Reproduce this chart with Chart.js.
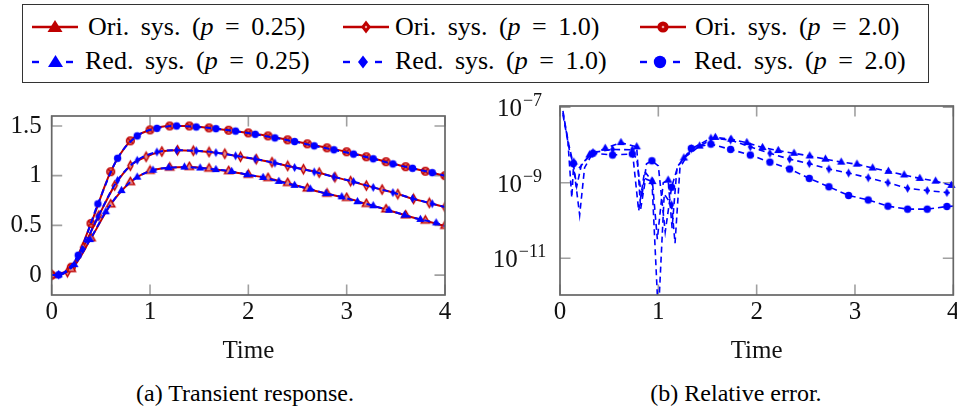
<!DOCTYPE html>
<html>
<head>
<meta charset="utf-8">
<script src="https://cdn.jsdelivr.net/npm/chart.js@4.4.1/dist/chart.umd.min.js"></script>
<style>
  html, body { margin: 0; padding: 0; background: #fff; overflow: hidden; }
  body { width: 957px; height: 413px; position: relative; font-family: "Liberation Serif", serif; color: #000; }
  #legendBox { position: absolute; left: 22px; top: 4px; width: 905px; height: 77px; border: 1.3px solid #333; }
  .lg { position: absolute; height: 30px; line-height: 30px; font-size: 26px; word-spacing: 5px; white-space: nowrap; }
  .smp { position: absolute; width: 46px; height: 22px; }
  canvas { position: absolute; }
  .cap { position: absolute; top: 380px; width: 400px; font-size: 24px; text-align: center; white-space: nowrap; }
</style>
</head>
<body>
<div id="legendBox"></div>

<!-- row 1: original system -->
<svg class="smp" style="left:32px;top:15.7px" viewBox="0 0 46 22">
  <line x1="0" y1="11" x2="46" y2="11" stroke="#bf0000" stroke-width="2.4"/>
  <polygon points="23,4 30.5,16 15.5,16" fill="#bf0000"/>
</svg>
<div class="lg" style="left:88px;top:12.3px">Ori. sys. (<i>p</i> = 0.25)</div>
<svg class="smp" style="left:343px;top:15.7px" viewBox="0 0 46 22">
  <line x1="0" y1="11" x2="46" y2="11" stroke="#bf0000" stroke-width="2.4"/>
  <polygon points="23,4.5 28,11 23,17.5 18,11" fill="#bf0000"/>
  <circle cx="23" cy="11" r="1.2" fill="#f0a0a0"/>
</svg>
<div class="lg" style="left:395px;top:12.3px">Ori. sys. (<i>p</i> = 1.0)</div>
<svg class="smp" style="left:640px;top:15.7px" viewBox="0 0 46 22">
  <line x1="0" y1="11" x2="46" y2="11" stroke="#bf0000" stroke-width="2.4"/>
  <circle cx="23" cy="11" r="5.6" fill="#bf0000"/>
  <circle cx="23" cy="11" r="1.3" fill="#f0a0a0"/>
</svg>
<div class="lg" style="left:695px;top:12.3px">Ori. sys. (<i>p</i> = 2.0)</div>

<!-- row 2: reduced system -->
<svg class="smp" style="left:32px;top:50.7px" viewBox="0 0 46 22">
  <line x1="0" y1="11" x2="7" y2="11" stroke="#0000ff" stroke-width="2.4"/>
  <line x1="34" y1="11" x2="41" y2="11" stroke="#0000ff" stroke-width="2.4"/>
  <polygon points="23.5,4 31,16 16,16" fill="#0000ff"/>
</svg>
<div class="lg" style="left:85px;top:45.8px">Red. sys. (<i>p</i> = 0.25)</div>
<svg class="smp" style="left:343px;top:50.7px" viewBox="0 0 46 22">
  <line x1="0" y1="11" x2="7" y2="11" stroke="#0000ff" stroke-width="2.4"/>
  <line x1="32" y1="11" x2="39" y2="11" stroke="#0000ff" stroke-width="2.4"/>
  <polygon points="20,4.5 25,11 20,17.5 15,11" fill="#0000ff"/>
</svg>
<div class="lg" style="left:395px;top:45.8px">Red. sys. (<i>p</i> = 1.0)</div>
<svg class="smp" style="left:640px;top:50.7px" viewBox="0 0 46 22">
  <line x1="0" y1="11" x2="7" y2="11" stroke="#0000ff" stroke-width="2.4"/>
  <line x1="33" y1="11" x2="40" y2="11" stroke="#0000ff" stroke-width="2.4"/>
  <circle cx="20" cy="11" r="6.2" fill="#0000ff"/>
</svg>
<div class="lg" style="left:694px;top:45.8px">Red. sys. (<i>p</i> = 2.0)</div>

<canvas id="resp" width="478" height="285" style="left:0;top:91px"></canvas>
<canvas id="err" width="490" height="285" style="left:478px;top:91px"></canvas>

<div class="cap" style="left:45px">(a) Transient response.</div>
<div class="cap" style="left:536px">(b) Relative error.</div>

<script>
// ---- (a) transient response ----
const tOri20 = [0, 0.2, 0.4, 0.6, 0.8, 1.0, 1.2, 1.4, 1.6, 1.8, 2.0, 2.2, 2.4, 2.6, 2.8, 3.0, 3.2, 3.4, 3.6, 3.8, 4.0];
const tOri16 = [0, 0.16, 0.32, 0.48, 0.64, 0.80, 0.96, 1.12, 1.28, 1.44, 1.60, 1.76, 1.92, 2.08, 2.24, 2.40,
                2.56, 2.72, 2.88, 3.04, 3.20, 3.36, 3.52, 3.68, 3.84, 4.00];
const tRed = [0, 0.07, 0.27, 0.47, 0.67, 0.87, 1.07, 1.27, 1.47, 1.67, 1.87, 2.07, 2.27, 2.47, 2.67, 2.87,
              3.07, 3.27, 3.47, 3.67, 3.87, 4.0];
const tRed025 = [0, 0.07, 0.23, 0.39, 0.55, 0.71, 0.87, 1.03, 1.19, 1.35, 1.51, 1.67, 1.83, 1.99, 2.15, 2.31,
                 2.47, 2.63, 2.79, 2.95, 3.11, 3.27, 3.43, 3.59, 3.75, 3.91, 4.0];

const ori025 = [0, 0.06, 0.37, 0.71, 0.934, 1.048, 1.08, 1.086, 1.07, 1.045, 1.008, 0.975, 0.925, 0.87, 0.818,
                0.775, 0.715, 0.66, 0.60, 0.547, 0.494];
const ori10 = [0, 0.03, 0.28, 0.60, 0.90, 1.10, 1.19, 1.243, 1.255, 1.25, 1.238, 1.22, 1.19, 1.166, 1.135,
               1.098, 1.065, 1.03, 0.985, 0.945, 0.90, 0.86, 0.815, 0.766, 0.726, 0.684];
const ori20 = [0, 0.08, 0.52, 1.04, 1.35, 1.46, 1.50, 1.50, 1.48, 1.457, 1.43, 1.40, 1.36, 1.32, 1.28, 1.24,
               1.19, 1.14, 1.09, 1.045, 1.0];
const red025 = [0, 0.002, 0.105, 0.357, 0.637, 0.85, 0.985, 1.055, 1.08, 1.086, 1.077, 1.061, 1.042, 1.01,
                0.982, 0.942, 0.903, 0.865, 0.82, 0.787, 0.738, 0.697, 0.652, 0.603, 0.56, 0.525, 0.494];
const red10 = [0, 0.002, 0.19, 0.585, 0.953, 1.155, 1.238, 1.255, 1.25, 1.232, 1.20, 1.168, 1.127, 1.082,
               1.038, 0.988, 0.94, 0.882, 0.83, 0.77, 0.718, 0.684];
const red20 = [0, 0.003, 0.2, 0.716, 1.175, 1.40, 1.476, 1.50, 1.49, 1.473, 1.448, 1.416, 1.38, 1.343, 1.30,
               1.26, 1.217, 1.17, 1.118, 1.074, 1.03, 1.0];

const timeTicks = [0, 1, 2, 3, 4];
const timeLabels = ['0', '1', '2', '3', '4'];
const respTicks = [0, 0.5, 1, 1.5];
const respLabels = ['0', '0.5', '1', '1.5'];

// ---- (b) relative error ----
const tErr025 = [0.03, 0.08, 0.12, 0.14, 0.20, 0.30, 0.46, 0.62, 0.78, 0.82, 0.87, 0.94, 0.99, 1.05, 1.10, 1.14,
                 1.19, 1.26, 1.42, 1.58, 1.74, 1.90, 2.06, 2.22, 2.38, 2.54, 2.70, 2.86, 3.02, 3.18, 3.34,
                 3.50, 3.66, 3.82, 3.98, 4.0];
const err025 = [7.9e-8, 1.26e-8, 4.0e-10, 3.5e-9, 2.5e-9, 5.4e-9, 8.1e-9, 1.15e-8, 8.9e-9, 2.0e-10, 1.26e-9,
                1.07e-9, 3.2e-11, 1.0e-9, 1.17e-9, 6.3e-11, 2.5e-9, 4.5e-9, 9.3e-9, 1.58e-8, 1.41e-8, 1.15e-8,
                8.5e-9, 7.1e-9, 6.0e-9, 5.1e-9, 4.2e-9, 3.5e-9, 3.1e-9, 2.45e-9, 2.0e-9, 1.6e-9, 1.3e-9,
                1.1e-9, 8.5e-10, 8.4e-10];
const mark025 = [0.14, 0.30, 0.46, 0.62, 0.78, 0.94, 1.10, 1.26, 1.42, 1.58, 1.74, 1.90, 2.06, 2.22, 2.38,
                 2.54, 2.70, 2.86, 3.02, 3.18, 3.34, 3.50, 3.66, 3.82, 3.98];

const tErr10 = [0.03, 0.09, 0.135, 0.20, 0.25, 0.335, 0.535, 0.735, 0.80, 0.86, 0.935, 1.0, 1.06, 1.135, 1.17,
                1.22, 1.335, 1.535, 1.735, 1.935, 2.135, 2.335, 2.535, 2.735, 2.935, 3.135, 3.335, 3.535,
                3.735, 3.935, 4.0];
const err10 = [7.1e-8, 1.0e-8, 3.16e-9, 1.4e-10, 2.5e-9, 6.3e-9, 7.6e-9, 7.4e-9, 1.8e-10, 2.0e-9, 1.12e-9,
               3e-13, 5.0e-10, 2.6e-10, 2.5e-11, 2.5e-9, 7.9e-9, 1.51e-8, 1.35e-8, 8.9e-9, 6.0e-9, 4.2e-9,
               3.2e-9, 2.3e-9, 1.8e-9, 1.35e-9, 1.0e-9, 7.1e-10, 6.2e-10, 5.5e-10, 5.2e-10];

const tErr20 = [0.03, 0.10, 0.135, 0.17, 0.22, 0.335, 0.535, 0.735, 0.78, 0.83, 0.88, 0.935, 1.0, 1.07, 1.135,
                1.2, 1.335, 1.535, 1.735, 1.935, 2.135, 2.335, 2.535, 2.735, 2.935, 3.135, 3.335, 3.535,
                3.735, 3.935, 4.0];
const err20 = [6.3e-8, 6.3e-9, 3.2e-9, 8e-10, 3.16e-9, 6.0e-9, 5.4e-9, 5.75e-9, 4.5e-9, 4.0e-10, 3.16e-9,
               3.8e-9, 2.8e-9, 5e-11, 7.6e-10, 2.8e-9, 8.1e-9, 1.05e-8, 7.6e-9, 5.4e-9, 3.5e-9, 2.3e-9,
               1.3e-9, 7.8e-10, 4.6e-10, 3.5e-10, 2.4e-10, 2.0e-10, 2.0e-10, 2.35e-10, 2.4e-10];
const mark20 = [0.135, 0.335, 0.535, 0.735, 0.935, 1.135, 1.335, 1.535, 1.735, 1.935, 2.135, 2.335, 2.535,
                2.735, 2.935, 3.135, 3.335, 3.535, 3.735, 3.935];

const errTicks = [1e-11, 1e-9, 1e-7];
const errExp = ['\u221211', '\u22129', '\u22127'];

const RED = '#bf0000', BLUE = '#0000ff';
const FONT = "'Liberation Serif', serif";

// small canvases used as point styles (pgfplots-like marks)
function mark(shape, fill, stroke, size) {
  const c = document.createElement('canvas');
  const w = Math.ceil(size * 2 + 3);
  c.width = w; c.height = w;
  const g = c.getContext('2d');
  const cx = w / 2, cy = w / 2;
  g.beginPath();
  if (shape === 'tri') {
    g.moveTo(cx, cy - size);
    g.lineTo(cx + size * 0.866, cy + size / 2);
    g.lineTo(cx - size * 0.866, cy + size / 2);
    g.closePath();
  } else if (shape === 'dia') {
    g.moveTo(cx, cy - size);
    g.lineTo(cx + size * 0.55, cy);
    g.lineTo(cx, cy + size);
    g.lineTo(cx - size * 0.55, cy);
    g.closePath();
  } else {
    g.arc(cx, cy, size, 0, Math.PI * 2);
  }
  g.fillStyle = fill;
  g.fill();
  if (stroke) {
    g.strokeStyle = stroke;
    g.lineWidth = 1.4;
    g.stroke();
    if (shape === 'circ') {
      const d = size * 0.6;
      g.beginPath();
      g.moveTo(cx - d, cy - d); g.lineTo(cx + d, cy + d);
      g.moveTo(cx + d, cy - d); g.lineTo(cx - d, cy + d);
      g.stroke();
    }
  }
  return c;
}

const mkOriTri = mark('tri', '#e68a8a', RED, 4.8);
const mkOriDia = mark('dia', '#e68a8a', RED, 4.6);
const mkOriCirc = mark('circ', '#e07070', RED, 3.9);
const mkRedTri = mark('tri', BLUE, null, 4.8);
const mkRedDia = mark('dia', BLUE, null, 4.6);
const mkRedCirc = mark('circ', BLUE, null, 3.7);

const pts = (ts, ys) => ts.map((t, i) => ({ x: t, y: ys[i] }));
const radiusAt = (ts, marks) => (c) => (marks.includes(ts[c.dataIndex]) ? 4 : 0);

function oriSet(ts, ys, style) {
  return {
    data: pts(ts, ys), borderColor: RED, borderWidth: 2, pointStyle: style,
    pointRadius: 4, cubicInterpolationMode: 'monotone', order: 1
  };
}
function redSet(ts, ys, style) {
  return {
    data: pts(ts, ys), borderColor: BLUE, borderWidth: 2, borderDash: [6, 4], pointStyle: style,
    pointRadius: radiusAt(ts, ts.slice(1, -1)), cubicInterpolationMode: 'monotone', order: 0
  };
}
function errSet(ts, ys, marks, style) {
  return {
    data: pts(ts, ys), borderColor: BLUE, borderWidth: 1.6, borderDash: [6, 4], pointStyle: style,
    pointRadius: radiusAt(ts, marks), tension: 0, clip: { left: 6, right: 6, top: 0, bottom: 0 }
  };
}

// box + inward ticks on all four sides
const frame = {
  id: 'frame',
  beforeDatasetsDraw(chart) {
    const { ctx, chartArea: a, scales } = chart;
    ctx.save();
    ctx.strokeStyle = '#a0a0a0';
    ctx.lineWidth = 1.6;
    ctx.beginPath();
    scales.x.ticks.forEach(t => {
      const px = scales.x.getPixelForValue(t.value);
      ctx.moveTo(px, a.bottom); ctx.lineTo(px, a.bottom - 10.5);
      ctx.moveTo(px, a.top); ctx.lineTo(px, a.top + 10.5);
    });
    scales.y.ticks.forEach(t => {
      const py = scales.y.getPixelForValue(t.value);
      ctx.moveTo(a.left, py); ctx.lineTo(a.left + 10.5, py);
      ctx.moveTo(a.right, py); ctx.lineTo(a.right - 10.5, py);
    });
    ctx.stroke();
    ctx.restore();
  },
  afterDatasetsDraw(chart) {
    const { ctx, chartArea: a } = chart;
    ctx.save();
    ctx.strokeStyle = '#666';
    ctx.lineWidth = 1.7;
    ctx.strokeRect(a.left, a.top, a.right - a.left, a.bottom - a.top);
    ctx.restore();
  }
};

// 10^k labels for the log axis
const logLabels = {
  id: 'logLabels',
  afterDraw(chart) {
    const { ctx, scales } = chart;
    ctx.save();
    ctx.fillStyle = '#111';
    ctx.textBaseline = 'alphabetic';
    ctx.textAlign = 'left';
    errTicks.forEach((v, i) => {
      const py = scales.y.getPixelForValue(v);
      ctx.font = '25px ' + FONT;
      const w1 = ctx.measureText('10').width;
      ctx.font = '18px ' + FONT;
      const w2 = ctx.measureText(errExp[i]).width;
      const x0 = 41.5 - (w1 + w2 + 1) / 2;
      ctx.font = '25px ' + FONT;
      ctx.fillText('10', x0, py + 9);
      ctx.font = '18px ' + FONT;
      ctx.fillText(errExp[i], x0 + w1 + 1, py - 1);
    });
    ctx.restore();
  }
};

const tickFont = { family: FONT, size: 25 };
const xAxis = {
  type: 'linear', min: 0, max: 4,
  afterBuildTicks: s => { s.ticks = timeTicks.map(v => ({ value: v })); },
  afterFit: s => { s.height = 81; },
  ticks: { font: tickFont, color: '#111', padding: 2, callback: (v, i) => timeLabels[i] },
  grid: { display: false, drawTicks: false },
  border: { display: false },
  title: { display: true, text: 'Time', font: { family: FONT, size: 25 }, color: '#111', padding: { top: 0, bottom: 10 } }
};

new Chart(document.getElementById('resp'), {
  type: 'line',
  data: {
    datasets: [
      oriSet(tOri20, ori025, mkOriTri),
      oriSet(tOri16, ori10, mkOriDia),
      oriSet(tOri20, ori20, mkOriCirc),
      redSet(tRed025, red025, mkRedTri),
      redSet(tRed, red10, mkRedDia),
      redSet(tRed, red20, mkRedCirc)
    ]
  },
  options: {
    responsive: false, animation: false, events: [], devicePixelRatio: 1,
    layout: { padding: { top: 15, right: 33, bottom: 0, left: 0 } },
    plugins: { legend: { display: false }, tooltip: { enabled: false } },
    scales: {
      x: xAxis,
      y: {
        type: 'linear', min: -0.2, max: 1.6,
        afterBuildTicks: s => { s.ticks = respTicks.map(v => ({ value: v })); },
        afterFit: s => { s.width = 51.7; },
        ticks: { font: tickFont, color: '#111', padding: 10, callback: (v, i) => respLabels[i] },
        grid: { display: false, drawTicks: false },
        border: { display: false }
      }
    }
  },
  plugins: [frame]
});

new Chart(document.getElementById('err'), {
  type: 'line',
  data: {
    datasets: [
      errSet(tErr025, err025, mark025, mkRedTri),
      errSet(tErr10, err10, mark20, mkRedDia),
      errSet(tErr20, err20, mark20, mkRedCirc)
    ]
  },
  options: {
    responsive: false, animation: false, events: [], devicePixelRatio: 1,
    layout: { padding: { top: 15, right: 14.7, bottom: 0, left: 0 } },
    plugins: { legend: { display: false }, tooltip: { enabled: false } },
    scales: {
      x: xAxis,
      y: {
        type: 'logarithmic', min: 1.07e-12, max: 1.07e-7,
        afterBuildTicks: s => { s.ticks = errTicks.map(v => ({ value: v })); },
        afterFit: s => { s.width = 82; },
        ticks: { display: false },
        grid: { display: false, drawTicks: false },
        border: { display: false }
      }
    }
  },
  plugins: [frame, logLabels]
});
</script>
</body>
</html>
